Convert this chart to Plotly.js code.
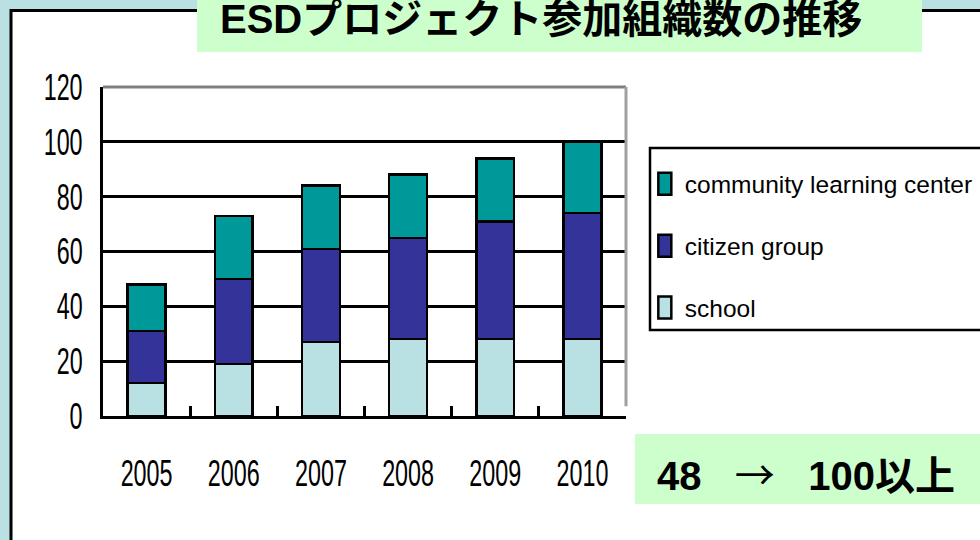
<!DOCTYPE html>
<html>
<head>
<meta charset="utf-8">
<script src="https://cdn.plot.ly/plotly-3.0.1.min.js"></script>
<style>
html,body{margin:0;padding:0;background:#bbe0e3;}
#chart{width:980px;height:540px;}
</style>
</head>
<body>
<div id="chart"></div>
<script>
// ---- data ----
const years = ['2005', '2006', '2007', '2008', '2009', '2010'];
const school = [12, 19, 27, 28, 28, 28];
const citizenGroup = [19, 31, 34, 37, 43, 46];
const communityCenter = [17, 23, 23, 23, 23, 26];
const seriesNames = ['school', 'citizen group', 'community learning center'];
const yTicks = [0, 20, 40, 60, 80, 100, 120];
const chartTitle = 'ESDプロジェクト参加組織数の推移';
const noteStart = '48';
const noteArrow = '→';
const noteEnd = '100以上';

// ---- style ----
const labelFam = '"Liberation Sans", Arial, sans-serif';
const boldFam = '"Liberation Sans", Arial, "Noto Sans CJK JP", sans-serif';
const colors = ['#b9e0e3', '#333399', '#009999'];
const ranks = [3, 2, 1];
const barLine = {color: '#000000', width: 2.5};
const sp = '\u00a0\u00a0\u00a0';

const traces = [school, citizenGroup, communityCenter].map((vals, i) => ({
  type: 'bar',
  name: seriesNames[i],
  x: years,
  y: vals,
  legendgroup: 'g' + i,
  legendrank: ranks[i],
  marker: {color: colors[i], line: barLine},
  hoverinfo: 'x+y+name'
}));

const layout = {
  width: 980,
  height: 540,
  paper_bgcolor: '#bbe0e3',
  plot_bgcolor: '#c0c0c0',
  margin: {l: 103, r: 354, t: 87, b: 124, pad: 0, autoexpand: false},
  barmode: 'stack',
  bargap: 0.565,
  showlegend: true,
  legend: {
    x: 1.036, xanchor: 'left',
    y: 0.517, yanchor: 'middle',
    bgcolor: 'rgba(0,0,0,0)',
    borderwidth: 0,
    traceorder: 'grouped',
    tracegroupgap: 27,
    font: {family: labelFam, size: 24.5, color: '#000000'}
  },
  xaxis: {
    type: 'category',
    showline: true, linecolor: '#000000', linewidth: 3,
    ticks: 'inside', tickson: 'boundaries', ticklen: 10, tickwidth: 3, tickcolor: '#000000',
    showgrid: false, zeroline: false,
    tickangle: 0,
    ticklabelstandoff: 23,
    tickfont: {family: labelFam, size: 37, color: '#000000'}
  },
  yaxis: {
    range: [0, 120],
    tickvals: yTicks,
    showline: true, linecolor: '#000000', linewidth: 3,
    ticks: 'inside', ticklen: 6, tickwidth: 3, tickcolor: '#000000',
    showgrid: true, gridcolor: '#000000', gridwidth: 3,
    zeroline: false,
    ticklabelstandoff: 10,
    tickfont: {family: labelFam, size: 37, color: '#000000'}
  },
  shapes: [
    {type: 'rect', xref: 'paper', yref: 'paper', layer: 'below',
     x0: -0.1759, x1: 1.9, y0: -0.6, y1: 1.2325,
     fillcolor: '#ffffff', line: {color: '#000000', width: 3}},
    {type: 'rect', xref: 'paper', yref: 'paper', layer: 'below',
     x0: 0.1797, x1: 1.566, y0: 1.1064, y1: 1.32,
     fillcolor: '#ccffcc', line: {width: 0}},
    {type: 'rect', xref: 'paper', yref: 'paper', layer: 'below',
     x0: 1.0172, x1: 1.75, y0: -0.2675, y1: -0.0547,
     fillcolor: '#ccffcc', line: {width: 0}},
    {type: 'rect', xref: 'paper', yref: 'paper', layer: 'below',
     x0: 1.0459, x1: 1.75, y0: 0.2614, y1: 0.8146,
     fillcolor: '#ffffff', line: {color: '#000000', width: 2.5}},
    {type: 'line', xref: 'paper', yref: 'paper', layer: 'above',
     x0: 0, x1: 1, y0: 1, y1: 1, line: {color: '#808080', width: 3}},
    {type: 'line', xref: 'paper', yref: 'paper', layer: 'above',
     x0: 1, x1: 1, y0: 0.03, y1: 1, line: {color: '#a0a0a0', width: 3}}
  ],
  annotations: [
    {xref: 'paper', yref: 'paper', x: 0.2199, y: 1.2066, xanchor: 'left', yanchor: 'middle',
     text: '<b>' + chartTitle + '</b>', showarrow: false,
     font: {family: boldFam, size: 40, color: '#000000'}},
    {xref: 'paper', yref: 'paper', x: 1.0554, y: -0.1733, xanchor: 'left', yanchor: 'middle',
     text: '<b>' + noteStart + sp + '<span style="font-family:\'Noto Sans CJK JP\';font-weight:normal">' + noteArrow + '</span>' + sp + noteEnd + '</b>',
     showarrow: false,
     font: {family: boldFam, size: 40, color: '#000000'}}
  ]
};

Plotly.newPlot('chart', traces, layout, {displayModeBar: false, staticPlot: true}).then(gd => {
  // the reference uses a condensed face for axis labels: squeeze glyphs horizontally
  const squeeze = (sel, f) => gd.querySelectorAll(sel).forEach(t => {
    const w = t.getComputedTextLength();
    t.setAttribute('textLength', (w * f).toFixed(1));
    t.setAttribute('lengthAdjust', 'spacingAndGlyphs');
  });
  squeeze('.xtick text', 0.63);
  squeeze('.ytick text', 0.63);
  // taller legend swatches, as in the reference
  gd.querySelectorAll('.legendpoints path').forEach(p => p.setAttribute('d', 'M6.5,11H-6.5V-11H6.5Z'));
});
</script>
</body>
</html>
